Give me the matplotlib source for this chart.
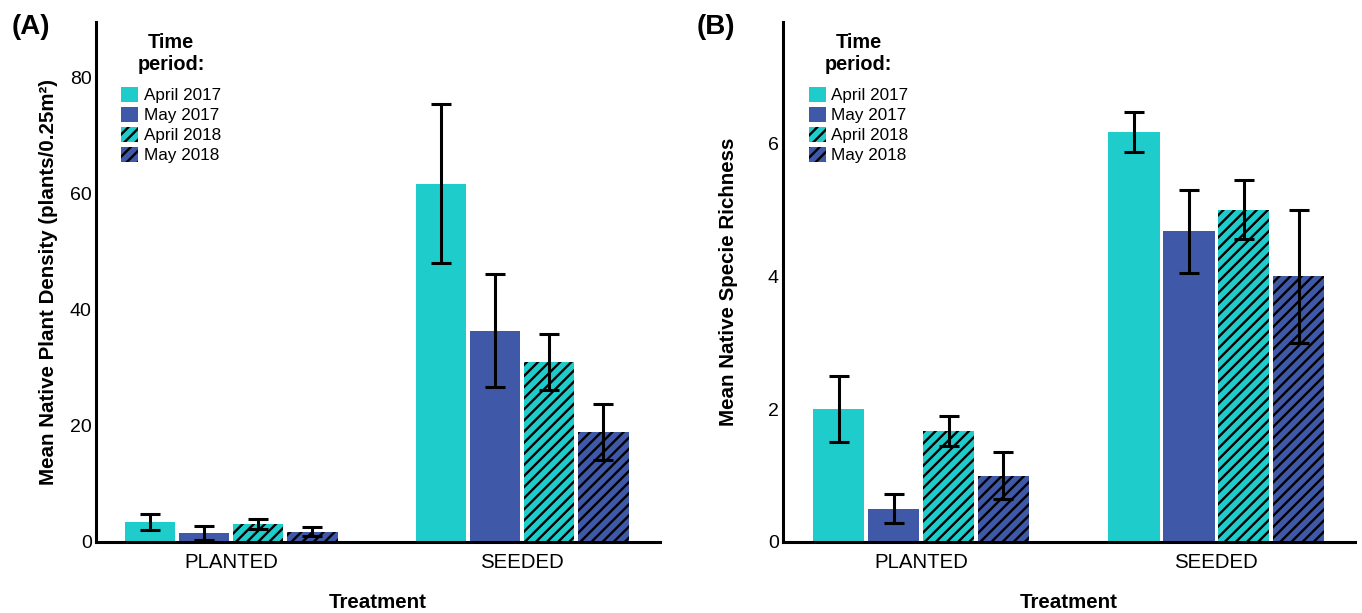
import numpy as np
import matplotlib
matplotlib.use("Agg")
from matplotlib import pyplot as plt

plt.rcParams['font.family'] = ['Liberation Sans', 'DejaVu Sans']
plt.rcParams['hatch.linewidth'] = 1.7

# data
treatments = ['PLANTED', 'SEEDED']
periods = ['April 2017', 'May 2017', 'April 2018', 'May 2018']

density_mean = {
    'April 2017': [3.5, 61.7],
    'May 2017': [1.5, 36.4],
    'April 2018': [3.1, 31.0],
    'May 2018': [1.8, 19.0],
}
density_err = {
    'April 2017': [1.4, 13.7],
    'May 2017': [1.2, 9.7],
    'April 2018': [0.8, 4.8],
    'May 2018': [0.8, 4.8],
}
richness_mean = {
    'April 2017': [2.0, 6.17],
    'May 2017': [0.5, 4.67],
    'April 2018': [1.67, 5.0],
    'May 2018': [1.0, 4.0],
}
richness_err = {
    'April 2017': [0.5, 0.3],
    'May 2017': [0.22, 0.62],
    'April 2018': [0.22, 0.44],
    'May 2018': [0.36, 1.0],
}

TEAL = '#1ECDCB'
BLUE = '#3F58A8'
colors = {'April 2017': TEAL, 'May 2017': BLUE, 'April 2018': TEAL, 'May 2018': BLUE}
hatches = {'April 2017': '', 'May 2017': '', 'April 2018': '///', 'May 2018': '///'}

fig = plt.figure(figsize=(13.62, 6.13), dpi=100)
W, H = 1362, 613
axA = fig.add_axes([96 / W, 71 / H, (660 - 96) / W, (542 - 22) / H])
axB = fig.add_axes([783 / W, 71 / H, (1355 - 783) / W, (542 - 22) / H])


def draw_panel(ax, means, errs, ylim, yticks, ylabel, tag, xlim, ylab_x, tag_x):
    x = np.arange(len(treatments))
    step = 0.186
    width = 0.174
    for i, p in enumerate(periods):
        pos = x + (i - 1.5) * step
        ax.bar(pos, means[p], width, color=colors[p], hatch=hatches[p],
               edgecolor='black' if hatches[p] else colors[p], linewidth=0,
               label=p)
        ax.errorbar(pos, means[p], yerr=errs[p], fmt='none', ecolor='black',
                    elinewidth=2.2, capsize=7, capthick=2.2)
    ax.set_xlim(*xlim)
    ax.set_ylim(*ylim)
    ax.set_yticks(yticks)
    ax.set_xticks(x)
    ax.set_xticklabels(treatments)
    ax.tick_params(axis='y', length=0, labelsize=14, pad=3)
    ax.tick_params(axis='x', length=0, labelsize=14.7, pad=8)
    ax.spines['top'].set_visible(False)
    ax.spines['right'].set_visible(False)
    ax.spines['left'].set_linewidth(2.2)
    ax.spines['bottom'].set_linewidth(2.2)
    ax.set_ylabel(ylabel, fontsize=14.8, fontweight='bold')
    ax.yaxis.set_label_coords(ylab_x, 0.5)
    ax.set_xlabel('Treatment', fontsize=14.8, fontweight='bold')
    ax.xaxis.set_label_coords(0.5, -0.099)
    leg = ax.legend(title='Time\nperiod:', loc='upper left',
                    bbox_to_anchor=(0.045, 0.978), frameon=False,
                    fontsize=12.3, handlelength=1.0, handleheight=1.0,
                    handletextpad=0.3, labelspacing=0.2, borderpad=0,
                    borderaxespad=0)
    leg.get_title().set_fontweight('bold')
    leg.get_title().set_fontsize(14.3)
    leg.get_title().set_multialignment('center')
    leg.get_title().set_linespacing(1.2)
    leg._legend_box.align = 'center'
    leg._legend_box.sep = 9
    for patch in leg.get_patches():
        patch.set_linewidth(0)
    ax.text(tag_x, 0.99, tag, transform=ax.transAxes,
            fontsize=20, fontweight='bold', ha='left', va='center')


draw_panel(axA, density_mean, density_err, (0, 89.6), [0, 20, 40, 60, 80],
           'Mean Native Plant Density (plants/0.25m²)', '(A)', (-0.464, 1.474),
           -0.067, -0.149)
draw_panel(axB, richness_mean, richness_err, (0, 7.82), [0, 2, 4, 6],
           'Mean Native Specie Richness', '(B)', (-0.468, 1.47),
           -0.078, -0.151)

fig.savefig('out.png', dpi=100)
